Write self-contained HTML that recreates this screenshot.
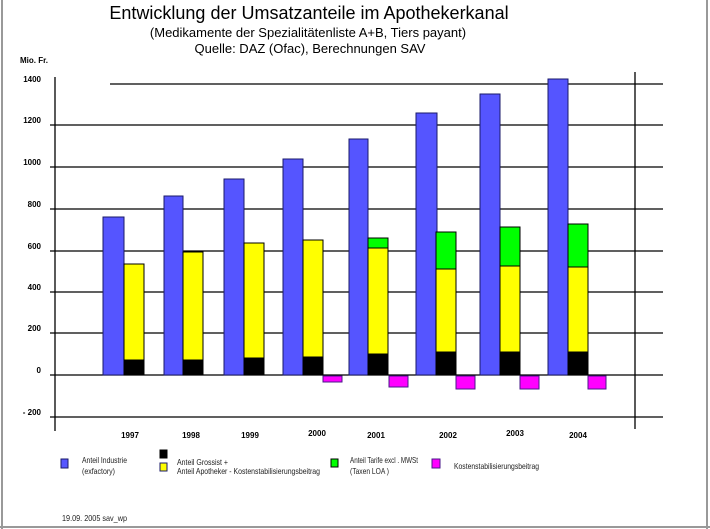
<!DOCTYPE html>
<html><head><meta charset="utf-8"><style>
html,body{margin:0;padding:0;background:#fff;}
svg{display:block;}
text{font-family:"Liberation Sans",Arial,sans-serif;}
</style></head><body>
<svg width="710" height="529" viewBox="0 0 710 529" xmlns="http://www.w3.org/2000/svg">
<rect x="0" y="0" width="710" height="529" fill="#fff"/>
<line x1="2" y1="0" x2="2" y2="529" stroke="#999" stroke-width="2"/>
<line x1="707" y1="0" x2="707" y2="529" stroke="#999" stroke-width="2"/>
<line x1="0" y1="527" x2="710" y2="527" stroke="#999" stroke-width="2"/>

<text x="309" y="19" font-size="18" text-anchor="middle">Entwicklung der Umsatzanteile im Apothekerkanal</text>
<text x="308" y="37" font-size="13" text-anchor="middle">(Medikamente der Spezialitätenliste A+B, Tiers payant)</text>
<text x="310" y="53" font-size="13" text-anchor="middle">Quelle: DAZ (Ofac), Berechnungen SAV</text>
<text x="20" y="63" font-size="8" font-weight="bold">Mio. Fr.</text>

<g stroke="#000" stroke-width="1.3">
<line x1="110" y1="84" x2="663" y2="84"/>
<line x1="50" y1="125" x2="663" y2="125"/>
<line x1="50" y1="167" x2="663" y2="167"/>
<line x1="50" y1="209" x2="663" y2="209"/>
<line x1="50" y1="251" x2="663" y2="251"/>
<line x1="50" y1="292" x2="663" y2="292"/>
<line x1="50" y1="333" x2="663" y2="333"/>
<line x1="50" y1="375" x2="663" y2="375"/>
<line x1="50" y1="417" x2="663" y2="417"/>
<line x1="55" y1="77" x2="55" y2="431"/>
<line x1="635" y1="72" x2="635" y2="429"/>
</g>
<g font-size="8" font-weight="bold" text-anchor="end">
<text x="41" y="82">1400</text>
<text x="41" y="123">1200</text>
<text x="41" y="165">1000</text>
<text x="41" y="207">800</text>
<text x="41" y="249">600</text>
<text x="41" y="290">400</text>
<text x="41" y="331">200</text>
<text x="41" y="373">0</text>
<text x="41" y="415">- 200</text>
</g>

<g stroke="#1a1a6a" stroke-width="1">
<rect x="103" y="217" width="21" height="158" fill="#5555ff"/>
<rect x="164" y="196" width="19" height="179" fill="#5555ff"/>
<rect x="224" y="179" width="20" height="196" fill="#5555ff"/>
<rect x="283" y="159" width="20" height="216" fill="#5555ff"/>
<rect x="349" y="139" width="19" height="236" fill="#5555ff"/>
<rect x="416" y="113" width="21" height="262" fill="#5555ff"/>
<rect x="480" y="94" width="20" height="281" fill="#5555ff"/>
<rect x="548" y="79" width="20" height="296" fill="#5555ff"/>
</g>
<g stroke="#000" stroke-width="1">
<rect x="124" y="264" width="20" height="96" fill="#ffff00"/>
<rect x="183" y="252" width="20" height="108" fill="#ffff00"/>
<rect x="244" y="243" width="20" height="115" fill="#ffff00"/>
<rect x="303" y="240" width="20" height="117" fill="#ffff00"/>
<rect x="368" y="248" width="20" height="106" fill="#ffff00"/>
<rect x="436" y="269" width="20" height="83" fill="#ffff00"/>
<rect x="500" y="266" width="20" height="86" fill="#ffff00"/>
<rect x="568" y="267" width="20" height="85" fill="#ffff00"/>
<rect x="368" y="238" width="20" height="10" fill="#00ff00"/>
<rect x="436" y="232" width="20" height="37" fill="#00ff00"/>
<rect x="500" y="227" width="20" height="39" fill="#00ff00"/>
<rect x="568" y="224" width="20" height="43" fill="#00ff00"/>
<rect x="124" y="360" width="20" height="15" fill="#000"/>
<rect x="183" y="360" width="20" height="15" fill="#000"/>
<rect x="244" y="358" width="20" height="17" fill="#000"/>
<rect x="303" y="357" width="20" height="18" fill="#000"/>
<rect x="368" y="354" width="20" height="21" fill="#000"/>
<rect x="436" y="352" width="20" height="23" fill="#000"/>
<rect x="500" y="352" width="20" height="23" fill="#000"/>
<rect x="568" y="352" width="20" height="23" fill="#000"/>
</g>
<g stroke="#4a1a8a" stroke-width="1" fill="#ff00ff">
<rect x="323" y="376" width="19" height="6"/>
<rect x="389" y="376" width="19" height="11"/>
<rect x="456" y="376" width="19" height="13"/>
<rect x="520" y="376" width="19" height="13"/>
<rect x="588" y="376" width="18" height="13"/>
</g>

<g font-size="8" font-weight="bold" text-anchor="middle">
<text x="130" y="438">1997</text>
<text x="191" y="438">1998</text>
<text x="250" y="438">1999</text>
<text x="317" y="436">2000</text>
<text x="376" y="438">2001</text>
<text x="448" y="438">2002</text>
<text x="515" y="436">2003</text>
<text x="578" y="438">2004</text>
</g>

<g stroke-width="1">
<rect x="61" y="459" width="7" height="9" fill="#5555ff" stroke="#1a1a6a"/>
<rect x="160" y="450" width="7" height="8" fill="#000" stroke="#000"/>
<rect x="160" y="463" width="7" height="8" fill="#ffff00" stroke="#1a1a6a"/>
<rect x="331" y="459" width="7" height="8" fill="#00ff00" stroke="#000"/>
<rect x="432" y="459" width="8" height="9" fill="#ff00ff" stroke="#4a1a8a"/>
</g>
<g font-size="8.5" fill="#222" lengthAdjust="spacingAndGlyphs">
<text x="82" y="463" textLength="45" lengthAdjust="spacingAndGlyphs">Anteil Industrie</text>
<text x="82" y="474" textLength="33" lengthAdjust="spacingAndGlyphs">(exfactory)</text>
<text x="177" y="465" textLength="51" lengthAdjust="spacingAndGlyphs">Anteil Grossist +</text>
<text x="177" y="474" textLength="143" lengthAdjust="spacingAndGlyphs">Anteil Apotheker   - Kostenstabilisierungsbeitrag</text>
<text x="350" y="463" textLength="68" lengthAdjust="spacingAndGlyphs">Anteil Tarife excl . MWSt</text>
<text x="350" y="474" textLength="39" lengthAdjust="spacingAndGlyphs">(Taxen LOA )</text>
<text x="454" y="469" textLength="85" lengthAdjust="spacingAndGlyphs">Kostenstabilisierungsbeitrag</text>
<text x="62" y="521" textLength="65" lengthAdjust="spacingAndGlyphs">19.09. 2005   sav_wp</text>
</g>
</svg>
</body></html>
